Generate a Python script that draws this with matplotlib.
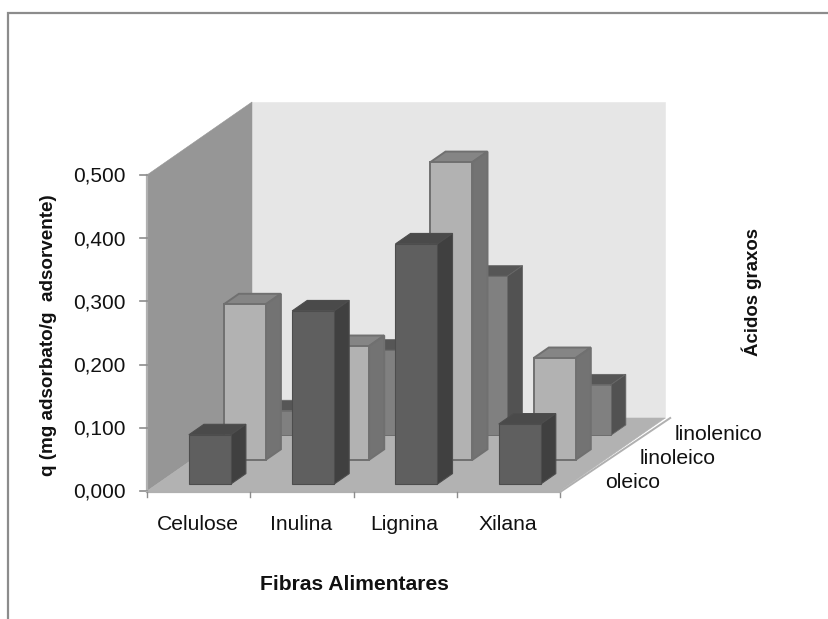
import matplotlib
matplotlib.use("Agg")
import matplotlib.pyplot as plt
from matplotlib.patches import Polygon

plt.rcParams['font.family'] = ['Liberation Sans', 'DejaVu Sans']

# Adsorption per dietary fibre and fatty acid
categories = ["Celulose", "Inulina", "Lignina", "Xilana"]
series_names = ["oleico", "linoleico", "linolenico"]
oleico = [0.078, 0.274, 0.380, 0.095]
linoleico = [0.246, 0.180, 0.471, 0.161]
linolenico = [0.039, 0.135, 0.252, 0.080]
y_ticks = [0.0, 0.1, 0.2, 0.3, 0.4, 0.5]

W, H = 829, 619
fig = plt.figure(figsize=(W / 100, H / 100), dpi=100, facecolor="white")
ax = fig.add_axes([0, 0, 1, 1])
ax.set_xlim(0, W)
ax.set_ylim(H, 0)
ax.axis("off")

# Oblique projection parameters of the 3D box
X0, Y0 = 147.0, 491.0
CAT_W = 103.3
PX_PER_UNIT = 632.0
DEPTH_DX, DEPTH_DY = 105.0, -73.0
N_DEPTH = 3
BAR_FRAC = 42.0 / CAT_W
BAR_DEPTH = 0.43


def project(cat, depth, value):
    """Map (category position, depth row position, value) to canvas coordinates."""
    x = X0 + cat * CAT_W + depth / N_DEPTH * DEPTH_DX
    y = Y0 - value * PX_PER_UNIT + depth / N_DEPTH * DEPTH_DY
    return x, y


def face(points, color, edge=None, lw=0.0, z=1):
    ax.add_patch(Polygon([project(*p) for p in points], closed=True,
                         facecolor=color, edgecolor=edge or color,
                         linewidth=lw if edge else 0.4, joinstyle="miter", zorder=z))


def bar(cat, row, value, colors, edge, lw):
    c0 = cat + (1 - BAR_FRAC) / 2 + 0.012
    c1 = c0 + BAR_FRAC
    d0 = row + (1 - BAR_DEPTH) / 2
    d1 = d0 + BAR_DEPTH
    front, top, side = colors
    face([(c0, d0, value), (c1, d0, value), (c1, d1, value), (c0, d1, value)], top, edge, lw)
    face([(c1, d0, 0), (c1, d1, 0), (c1, d1, value), (c1, d0, value)], side, edge, lw)
    face([(c0, d0, 0), (c1, d0, 0), (c1, d0, value), (c0, d0, value)], front, edge, lw)


top_v = y_ticks[-1]
n = len(categories)

# Back wall, side wall, floor
face([(0, N_DEPTH, 0), (n, N_DEPTH, 0), (n, N_DEPTH, top_v), (0, N_DEPTH, top_v)], "#e6e6e6")
face([(0, 0, 0), (0, N_DEPTH, 0), (0, N_DEPTH, top_v), (0, 0, top_v)], "#969696")
face([(0, 0, 0), (n, 0, 0), (n, N_DEPTH, 0), (0, N_DEPTH, 0)], "#b2b2b2")

# Bars are painted from the back row forward
styles = {
    "linolenico": (linolenico, ("#808080", "#565656", "#525252"), "#666666", 0.6),
    "linoleico": (linoleico, ("#b2b2b2", "#858585", "#737373"), "#707070", 1.4),
    "oleico": (oleico, ("#5f5f5f", "#4a4a4a", "#404040"), "#4d4d4d", 0.8),
}
for row in (2, 1, 0):
    values, colors, edge, lw = styles[series_names[row]]
    for cat, value in enumerate(values):
        bar(cat, row, value, colors, edge, lw)

AXIS_C = "#b0b0b0"
TICK_C = "#8c8c8c"

# Value axis
x_axis, y_low = project(0, 0, 0)
_, y_high = project(0, 0, top_v)
ax.plot([x_axis, x_axis], [y_low, y_high], color=AXIS_C, lw=1.6, zorder=3)
for v in y_ticks:
    xt, yt = project(0, 0, v)
    ax.plot([xt - 7, xt], [yt, yt], color=TICK_C, lw=1.2, zorder=3)
    ax.text(xt - 21, yt + 1.5, f"{v:.3f}".replace(".", ","), ha="right", va="center",
            fontsize=15.0, color="#111111")

# Category axis along the floor's front edge
x1, y1 = project(n, 0, 0)
ax.plot([x_axis, x1], [y1 + 1, y1 + 1], color=AXIS_C, lw=1.6, zorder=3)
for i in range(n + 1):
    xt, yt = project(i, 0, 0)
    ax.plot([xt, xt], [yt + 1, yt + 6], color=TICK_C, lw=1.0, zorder=3)
for i, name in enumerate(categories):
    xt, yt = project(i + 0.5, 0, 0)
    ax.text(xt - 0.5, yt + 34, name, ha="center", va="center", fontsize=15.2, color="#111111")

# Depth axis along the floor's right edge
x2, y2 = project(n, N_DEPTH, 0)
ax.plot([x1, x2 + 5], [y1 + 1, y2], color=AXIS_C, lw=1.4, zorder=3)
for r, name in enumerate(series_names):
    xt, yt = project(n, r + 0.5, 0)
    ax.text(xt + 27, yt + 4, name, ha="left", va="center", fontsize=15.2, color="#111111")

# Axis titles
ax.text(49, 335, "q (mg adsorbato/g  adsorvente)", rotation=90, ha="center", va="center",
        fontsize=13.6, fontweight="bold", color="#111111")
ax.text(354.5, 585, "Fibras Alimentares", ha="center", va="center",
        fontsize=15.2, fontweight="bold", color="#111111")
ax.text(752, 291.5, "Ácidos graxos", rotation=90, ha="center", va="center",
        fontsize=13.4, fontweight="bold", color="#111111")

# Chart area frame, open towards the lower right
ax.plot([8.5, 8.5, W], [H, 12.5, 12.5], color="#8c8c8c", lw=1.6, zorder=5,
        solid_joinstyle="miter")

fig.savefig("out.png", dpi=100, facecolor="white")
